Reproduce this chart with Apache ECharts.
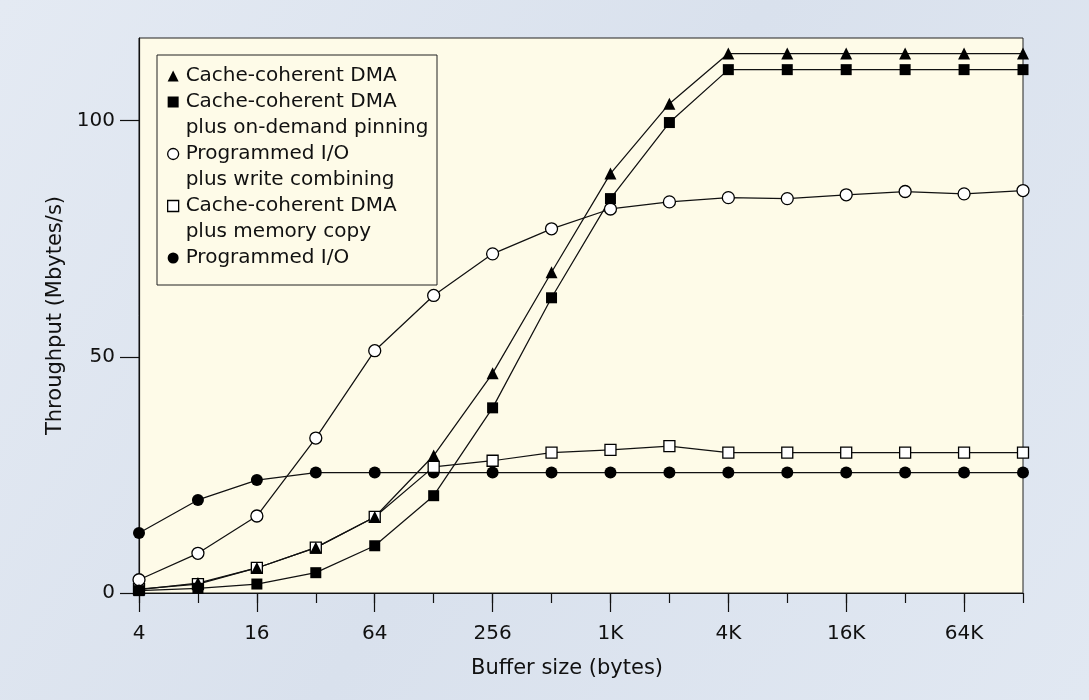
<!DOCTYPE html>
<html><head><meta charset="utf-8">
<script src="https://cdn.jsdelivr.net/npm/echarts@6/dist/echarts.min.js"></script>
<style>html,body{margin:0;padding:0;background:#dfe6f0;} #c{width:1089px;height:700px;}</style>
</head><body><div id="c"></div>
<script>
// ---- data ----
const categories = ['4','8','16','32','64','128','256','512','1K','2K','4K','8K','16K','32K','64K','128K'];
const yTicks = [0, 50, 100];
const seriesNames = [
  'Cache-coherent DMA',
  'Cache-coherent DMA\nplus on-demand pinning',
  'Programmed I/O\nplus write combining',
  'Cache-coherent DMA\nplus memory copy',
  'Programmed I/O'
];
const ccDMA        = [0.7, 2.1, 5.3, 9.6, 16.1, 29.1, 46.5, 67.9, 88.8, 103.6, 114.2, 114.2, 114.2, 114.2, 114.2, 114.2];
const ccDMAPinning = [0.5, 1.0, 1.9, 4.3, 10.0, 20.6, 39.2, 62.5, 83.5, 99.6, 110.8, 110.8, 110.8, 110.8, 110.8, 110.8];
const pioWC        = [2.8, 8.4, 16.3, 32.8, 51.3, 63.0, 71.8, 77.1, 81.3, 82.8, 83.7, 83.5, 84.3, 85.0, 84.5, 85.2];
const ccDMACopy    = [0.8, 1.9, 5.3, 9.6, 16.1, 26.7, 28.0, 29.7, 30.3, 31.1, 29.7, 29.7, 29.7, 29.7, 29.7, 29.7];
const pio          = [12.7, 19.7, 23.9, 25.5, 25.5, 25.5, 25.5, 25.5, 25.5, 25.5, 25.5, 25.5, 25.5, 25.5, 25.5, 25.5];

// ---- chart ----
const FONT = 'DejaVu Sans';
const INK = '#111';
const L = 26;
const chart = echarts.init(document.getElementById('c'), null, {renderer: 'canvas'});
const filled = {color: '#000', borderWidth: 0};
const hollow = {color: '#fff', borderColor: '#000', borderWidth: 1.3};
const lineStyle = {color: INK, width: 1.25};
function mk(name, data, symbol, size, itemStyle) {
  return {
    type: 'line', name: name, data: data, symbol: symbol, symbolSize: size,
    lineStyle: lineStyle, itemStyle: itemStyle, emphasis: {disabled: true},
    showAllSymbol: true, animation: false
  };
}
// Legend text: pad with empty lines so the marker sits on the first text line
function legendText(name) {
  if (name === seriesNames[0]) return name;
  if (name.indexOf('\n') >= 0) return ' \n' + name;
  return ' \n' + name + '\n ';
}
const option = {
  animation: false,
  backgroundColor: {type: 'linear', x: 0, y: 0, x2: 1, y2: 1,
    colorStops: [{offset: 0, color: '#e4eaf3'}, {offset: 0.5, color: '#d9e1ed'}, {offset: 1, color: '#e1e8f2'}]},
  textStyle: {fontFamily: FONT, color: INK},
  grid: {left: 139, right: 66, top: 38, bottom: 107, show: true,
    backgroundColor: '#fefbe8', borderColor: '#222', borderWidth: 1},
  graphic: [{type: 'rect', z: 5, shape: {x: 157, y: 55, width: 280, height: 230},
    style: {fill: 'rgba(0,0,0,0)', stroke: '#222', lineWidth: 1}}],
  legend: {
    orient: 'vertical', left: 167, top: 63, padding: 0, itemGap: -L,
    itemWidth: 11, itemHeight: 11, selectedMode: false,
    formatter: legendText,
    textStyle: {fontFamily: FONT, fontSize: 20, lineHeight: L, color: INK, padding: [0, 0, 0, 2]},
    data: [
      {name: seriesNames[0], icon: 'triangle', itemStyle: filled},
      {name: seriesNames[1], icon: 'rect', itemStyle: filled},
      {name: seriesNames[2], icon: 'circle', itemStyle: hollow},
      {name: seriesNames[3], icon: 'rect', itemStyle: hollow},
      {name: seriesNames[4], icon: 'circle', itemStyle: filled}
    ]
  },
  xAxis: [
    {type: 'category', data: categories, boundaryGap: false, position: 'bottom',
      axisLine: {lineStyle: {color: INK, width: 1.2}},
      axisTick: {interval: 1, length: 19, lineStyle: {color: INK, width: 1.2}},
      axisLabel: {interval: 1, margin: 31, fontSize: 20, color: INK, fontFamily: FONT},
      splitLine: {show: false},
      name: 'Buffer size (bytes)', nameLocation: 'middle', nameGap: 65,
      nameTextStyle: {fontSize: 21, color: INK, fontFamily: FONT, padding: [0, 28, 0, 0]}},
    {type: 'category', data: categories, boundaryGap: false, position: 'bottom',
      axisLine: {show: false},
      axisTick: {interval: 0, length: 10, lineStyle: {color: INK, width: 1.2}},
      axisLabel: {show: false}, splitLine: {show: false}}
  ],
  yAxis: {
    type: 'value', min: 0, max: 117.5, interval: 50,
    axisLine: {show: true, lineStyle: {color: INK, width: 1.2}},
    axisTick: {show: true, length: 19, customValues: yTicks, lineStyle: {color: INK, width: 1.2}},
    axisLabel: {customValues: yTicks, margin: 24, fontSize: 20, color: INK, fontFamily: FONT},
    splitLine: {show: false},
    name: 'Throughput (Mbytes/s)', nameLocation: 'middle', nameGap: 57,
    nameTextStyle: {fontSize: 21, color: INK, fontFamily: FONT}
  },
  series: [
    mk(seriesNames[4], pio, 'circle', 12, filled),
    mk(seriesNames[3], ccDMACopy, 'rect', 11, hollow),
    mk(seriesNames[2], pioWC, 'circle', 12, hollow),
    mk(seriesNames[1], ccDMAPinning, 'rect', 11, filled),
    mk(seriesNames[0], ccDMA, 'triangle', 12, filled)
  ]
};
chart.setOption(option);
</script>
</body></html>
